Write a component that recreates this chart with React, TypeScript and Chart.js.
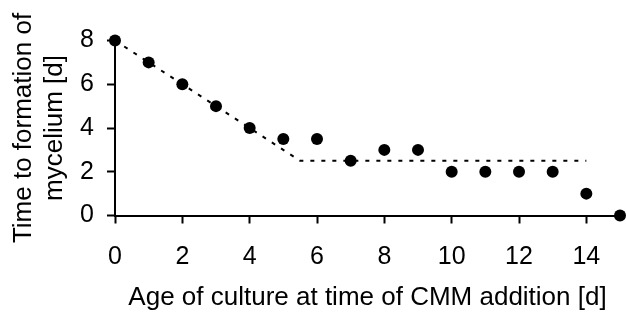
import { useEffect, useRef } from 'react';
import { Chart, registerables } from 'chart.js';

Chart.register(...registerables);

const ages = [0, 1, 2, 3, 4, 5, 6, 7, 8, 9, 10, 11, 12, 13, 14, 15];
const times = [8, 7, 6, 5, 4, 3.5, 3.5, 2.5, 3, 3, 2, 2, 2, 2, 1, 0];
const trendX = [0, 5.5, 14];
const trendY = [8, 2.5, 2.5];
const xTicks = [0, 2, 4, 6, 8, 10, 12, 14];
const yTicks = [0, 2, 4, 6, 8];
const xTitle = 'Age of culture at time of CMM addition [d]';
const yTitle = ['Time to formation of', 'mycelium [d]'];

const FONT = '"Liberation Sans", Arial, Helvetica, sans-serif';

export default function App() {
  const ref = useRef<HTMLCanvasElement | null>(null);

  useEffect(() => {
    document.body.style.margin = '0';
    const canvas = ref.current;
    if (!canvas) return;
    const chart = new Chart(canvas, {
      type: 'scatter',
      data: {
        datasets: [
          {
            type: 'line',
            data: trendX.map((x, i) => ({ x, y: trendY[i] })),
            borderColor: '#000',
            borderWidth: 2,
            borderDash: [4, 7],
            pointRadius: 0,
            fill: false,
            tension: 0,
            clip: false as any,
            order: 2,
          } as any,
          {
            type: 'scatter',
            data: ages.map((x, i) => ({ x, y: times[i] })),
            backgroundColor: '#000',
            borderColor: '#000',
            pointRadius: 6,
            pointHoverRadius: 6,
            borderWidth: 0,
            clip: false as any,
            order: 1,
          } as any,
        ],
      },
      options: {
        responsive: false,
        animation: false,
        events: [],
        layout: { padding: { left: 0, right: 7, top: 40.5, bottom: 0 } },
        plugins: { legend: { display: false }, tooltip: { enabled: false } },
        scales: {
          x: {
            type: 'linear',
            min: 0,
            max: 15,
            afterBuildTicks: (axis: any) => {
              axis.ticks = xTicks.map((v) => ({ value: v }));
            },
            afterFit: (axis: any) => {
              axis.height = 96.5;
            },
            ticks: {
              color: '#000',
              font: { family: FONT, size: 25 },
              padding: 19,
              maxRotation: 0,
              autoSkip: false,
            },
            grid: {
              display: true,
              drawOnChartArea: false,
              drawTicks: true,
              tickLength: 8,
              tickWidth: 2,
              tickColor: '#000',
            },
            border: { display: true, color: '#000', width: 2 },
            title: {
              display: true,
              text: xTitle,
              color: '#000',
              font: { family: FONT, size: 26, lineHeight: 1.1 },
              padding: { top: 0, bottom: 0 },
            },
          },
          y: {
            type: 'linear',
            min: 0,
            max: 8,
            afterBuildTicks: (axis: any) => {
              axis.ticks = yTicks.map((v) => ({ value: v }));
            },
            afterFit: (axis: any) => {
              axis.width = 115;
            },
            ticks: {
              color: '#000',
              font: { family: FONT, size: 25 },
              padding: 13,
              autoSkip: false,
            },
            grid: {
              display: true,
              drawOnChartArea: false,
              drawTicks: true,
              tickLength: 8,
              tickWidth: 2,
              tickColor: '#000',
            },
            border: { display: true, color: '#000', width: 2 },
            title: {
              display: true,
              text: yTitle,
              color: '#000',
              font: { family: FONT, size: 26, lineHeight: 1.2 },
              padding: { top: 8, bottom: 0 },
            },
          },
        },
      },
    });
    return () => chart.destroy();
  }, []);

  return (
    <div style={{ position: 'absolute', left: 0, top: 0, width: 627, height: 312 }}>
      <canvas ref={ref} width={627} height={312} style={{ display: 'block' }} />
    </div>
  );
}
